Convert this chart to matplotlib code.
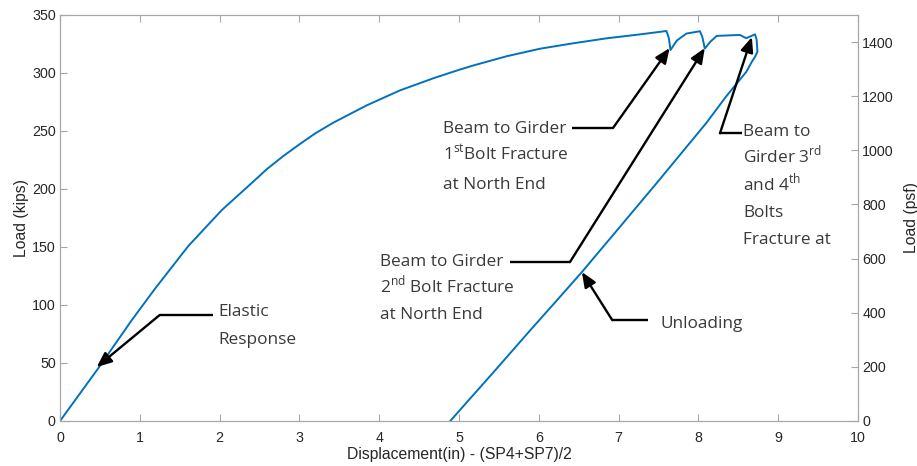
import matplotlib
matplotlib.use("Agg")
import matplotlib.pyplot as plt

# Loading branch (displacement in, load kips)
load_x = [0, 0.48, 0.90, 1.19, 1.61, 2.03, 2.40, 2.59, 2.80, 3.01, 3.20, 3.42, 3.84,
          4.26, 4.68, 4.99, 5.18, 5.60, 6.02, 6.43, 6.85, 7.27, 7.60, 7.63, 7.65,
          7.73, 7.85, 8.02, 8.05, 8.08, 8.15, 8.23, 8.52, 8.60, 8.71, 8.73, 8.74]
load_y = [0, 45.5, 87, 114, 151, 182, 205, 217, 228.5, 239, 248, 257, 272, 285,
          295.5, 302.5, 306.5, 314.5, 321, 325.6, 329.9, 333.3, 336.2, 330, 319.8,
          328, 334, 336, 331, 321, 327, 332, 332.8, 330, 333.3, 328.4, 318.4]
# Unloading branch
unl_x = [8.71, 8.67, 8.60, 8.35, 8.10, 7.5, 7.0, 6.54, 6.22, 5.89, 5.47, 4.89]
unl_y = [314, 309.7, 301, 280, 257, 207, 166, 128.4, 103.5, 78, 45, 0]

kips_ticks = [0, 50, 100, 150, 200, 250, 300, 350]
psf_ticks = [0, 200, 400, 600, 800, 1000, 1200, 1400]
x_ticks = list(range(0, 11))
psf_max = 1500

W, H = 917, 466
fig = plt.figure(figsize=(W / 100, H / 100), dpi=100)
ax = fig.add_axes([60 / W, 45 / H, 798 / W, 406 / H])

blue = "#0072BD"
spine_c = "#a6a6a6"
txt_c = "#262626"
tick_fs = 10.3
lab_fs = 11.3
ax.plot(load_x + unl_x, load_y + unl_y, color=blue, lw=1.4)
ax.set_xlim(0, 10)
ax.set_ylim(0, 350)
ax.set_xticks(x_ticks)
ax.set_yticks(kips_ticks)
for s in ax.spines.values():
    s.set_color(spine_c)
ax.tick_params(direction="in", top=True, length=5, colors=spine_c,
               labelcolor=txt_c, labelsize=tick_fs, pad=3)
ax.tick_params(axis="x", pad=7)
for lab in ax.get_xticklabels() + ax.get_yticklabels():
    lab.set_family("Liberation Sans")
ax.set_xlabel("Displacement(in) - (SP4+SP7)/2", fontsize=lab_fs, color=txt_c,
              family="Liberation Sans", labelpad=2)
ax.set_ylabel("Load (kips)", fontsize=lab_fs, color=txt_c, family="Liberation Sans",
              labelpad=2)

ax2 = ax.twinx()
ax2.set_ylim(0, psf_max)
ax2.set_yticks(psf_ticks)
for s in ax2.spines.values():
    s.set_color(spine_c)
ax2.tick_params(direction="in", length=5, colors=spine_c, labelcolor=txt_c,
                labelsize=tick_fs, pad=3)
for lab in ax2.get_yticklabels():
    lab.set_family("Liberation Sans")
ax2.set_ylabel("Load (psf)", fontsize=lab_fs, color=txt_c, family="Liberation Sans",
               labelpad=7)

plt.rcParams["mathtext.fontset"] = "custom"
plt.rcParams["mathtext.rm"] = "Open Sans"

afont = dict(fontsize=12.4, color="#3a3a3a", family="Open Sans",
             va="baseline", ha="left")
lw = 1.7
arrowprops = dict(arrowstyle="-|>,head_length=0.9,head_width=0.38", color="black",
                  lw=lw, shrinkA=0, shrinkB=0)
PX = 72 / 100  # points per pixel


def callout(tip, elbow, hend, text_xy, lines, step_px):
    ax.plot([elbow[0], hend[0]], [elbow[1], hend[1]], color="black", lw=lw,
            solid_capstyle="butt")
    ax.annotate("", xy=tip, xytext=elbow, arrowprops=arrowprops)
    for i, line in enumerate(lines):
        ax.annotate(line, xy=text_xy, xycoords="data",
                    xytext=(0, -i * step_px * PX), textcoords="offset points",
                    **afont)


callout((0.46, 46.5), (1.25, 91.4), (1.92, 91.4), (1.98, 90.1),
        ["Elastic", "Response"], 28)
callout((7.64, 321.5), (6.93, 252.6), (6.42, 252.6), (4.80, 248.7),
        ["Beam to Girder", "1$^{\\rm st}$Bolt Fracture", "at North End"], 28)
callout((8.08, 321.5), (6.39, 137), (5.64, 137), (4.01, 134),
        ["Beam to Girder", "2$^{\\rm nd}$ Bolt Fracture", "at North End"], 26.5)
callout((8.67, 331), (8.27, 248), (8.55, 248), (8.56, 246.1),
        ["Beam to", "Girder 3$^{\\rm rd}$", "and 4$^{\\rm th}$", "Bolts",
         "Fracture at"], 27.2)
callout((6.54, 128.4), (6.92, 87), (7.37, 87), (7.52, 80.6), ["Unloading"], 28)

fig.savefig("out.png", dpi=100)
